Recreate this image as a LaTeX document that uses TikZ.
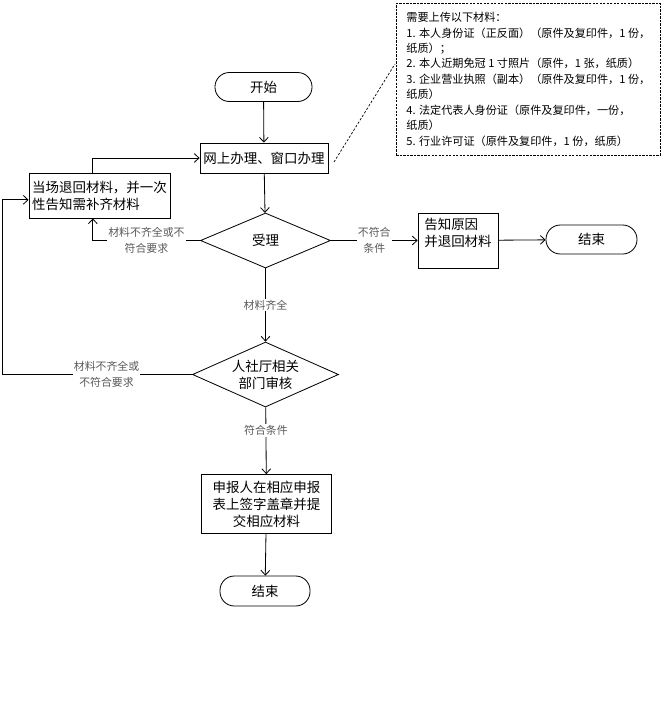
\documentclass[tikz,border=0pt]{standalone}
\usepackage{fontspec}
\setmainfont{Noto Sans CJK SC}
\usepackage{tikz}
\usetikzlibrary{positioning}
\usetikzlibrary{shapes.geometric}
\usetikzlibrary{arrows.meta}
\definecolor{labelColor}{rgb}{0.35,0.35,0.35}

\begin{document}
\begin{tikzpicture}[x=0.03cm, y=-0.03cm, >={Straight Barb[length=4pt, width=7.5pt]}]

            \tikzstyle{terminal} = [draw, line width=0.7pt, rounded corners=0.43cm, inner sep=1pt, font=\fontsize{11.5}{14.5}\selectfont];
            \tikzstyle{process} = [draw, line width=0.7pt, inner sep=1pt, font=\fontsize{11.5}{14.5}\selectfont];
            \tikzstyle{decision} = [draw, line width=0.7pt, shape=diamond, shape aspect=2.3, inner sep=0pt, align=center, font=\fontsize{11.5}{14.5}\selectfont];
            \tikzstyle{edgeLabel} = [fill=white, text=labelColor, align=center, inner sep=1pt, font=\fontsize{9.3}{13.5}\selectfont];
            \tikzstyle{normalEdge} = [line width=0.7pt, ->];

            \useasboundingbox (0,0) rectangle (661,719);

            \node[terminal, minimum width=2.91cm, minimum height=0.87cm] (start) at (263.5,87) {开始};
            \node[process, minimum width=3.84cm, minimum height=0.9cm] (web) at (264,158) {网上办理、窗口办理};
            \node[process, align=left, minimum width=4.23cm, minimum height=1.35cm] (back) at (99.5,195.5) {当场退回材料，并一次\\性告知需补齐材料};
            \node[decision, minimum width=3.9cm, minimum height=1.65cm] (accept) at (265.5,240.5) {受理};
            \node[process, align=left, minimum width=2.4cm, minimum height=1.65cm] (reason) at (458,240.5) {告知原因\\并退回材料\\ };
            \node[terminal, minimum width=2.73cm, minimum height=0.87cm] (endA) at (591.5,239.5) {结束};
            \node[decision, minimum width=4.38cm, minimum height=1.95cm] (review) at (265.5,374.5) {人社厅相关\\部门审核};
            \node[process, align=center, minimum width=3.9cm, minimum height=1.77cm] (submit) at (266.5,504) {申报人在相应申报\\表上签字盖章并提\\交相应材料};
            \node[terminal, minimum width=2.7cm, minimum height=0.9cm] (endB) at (265,591) {结束};

            \node[draw, line width=0.6pt, dash pattern=on 2pt off 1pt, anchor=north west, align=left, minimum width=7.92cm, minimum height=4.56cm, font=\fontsize{9.5}{13.2}\selectfont] (note) at (396,3) {需要上传以下材料：\\1. 本人身份证（正反面）（原件及复印件，1 份，\\纸质）；\\2. 本人近期免冠 1 寸照片（原件，1 张，纸质）\\3. 企业营业执照（副本）（原件及复印件，1 份，\\纸质）\\4. 法定代表人身份证（原件及复印件，一份，\\纸质）\\5. 行业许可证（原件及复印件，1 份，纸质）};

            \coordinate (dashA) at (334,162);
            \coordinate (dashB) at (395,64);
            \coordinate (loopCorner) at (2,374.5);

            \draw[normalEdge] (start) -- (web);
            \draw[normalEdge] (web) -- (accept);
            \draw[normalEdge] ([xshift=-0.2cm]back.north) |- (web.west);
            \draw[normalEdge] (accept.west) -| node[edgeLabel, pos=0.25] {材料不齐全或不\\符合要求} ([xshift=-0.2cm]back.south);
            \draw[normalEdge] (accept.east) -- node[edgeLabel] {不符合\\条件} (reason.west);
            \draw[normalEdge] (reason) -- (endA);
            \draw[normalEdge] (accept) -- node[edgeLabel] {材料齐全} (review);
            \draw[normalEdge] (review.west) -- node[edgeLabel, pos=0.45] {材料不齐全或\\不符合要求} (loopCorner) |- ([yshift=-0.13cm]back.west);
            \draw[normalEdge] (review) -- node[edgeLabel, pos=0.35] {符合条件} (submit);
            \draw[normalEdge] (submit) -- (endB);

            \draw[line width=0.6pt, dash pattern=on 2pt off 1.5pt] (dashA) -- (dashB);
          \end{tikzpicture}
\end{document}
